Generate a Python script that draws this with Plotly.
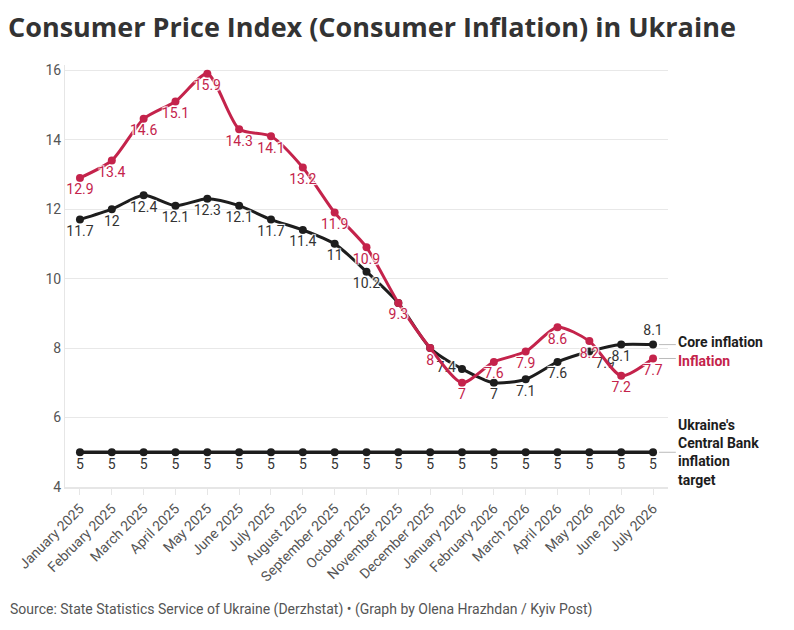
import plotly.graph_objects as go

months = ["January 2025", "February 2025", "March 2025", "April 2025", "May 2025",
          "June 2025", "July 2025", "August 2025", "September 2025", "October 2025",
          "November 2025", "December 2025", "January 2026", "February 2026",
          "March 2026", "April 2026", "May 2026", "June 2026", "July 2026"]
inflation = [12.9, 13.4, 14.6, 15.1, 15.9, 14.3, 14.1, 13.2, 11.9, 10.9, 9.3, 8.0,
             7.0, 7.6, 7.9, 8.6, 8.2, 7.2, 7.7]
core = [11.7, 12.0, 12.4, 12.1, 12.3, 12.1, 11.7, 11.4, 11.0, 10.2, 9.3, 8.0,
        7.4, 7.0, 7.1, 7.6, 7.9, 8.1, 8.1]
target = [5] * 19
# core labels hidden where they sit under the red ones
core_hidden = ["November 2025", "December 2025"]
# core labels moved off the red ones where the lines cross
core_label_pos = {"January 2026": "middle left", "May 2026": "bottom right",
                  "July 2026": "top center"}

RED = "#c4234b"
BLACK = "#1d1d1d"
FONT = "Roboto"
HALO = "1px 1px 1px #fff, -1px -1px 1px #fff, 1px -1px 1px #fff, -1px 1px 1px #fff"


def fmt(v):
    return f"{v:g}"


x_idx = list(range(len(months)))
core_text = ["" if m in core_hidden else fmt(v) for m, v in zip(months, core)]
core_pos = [core_label_pos.get(m, "bottom center") for m in months]

fig = go.Figure()
fig.add_trace(go.Scatter(
    x=x_idx, y=target, mode="lines+markers+text",
    line=dict(color=BLACK, width=3.5), marker=dict(size=8, color=BLACK),
    text=[fmt(v) for v in target], textposition="bottom center",
    textfont=dict(color="#333", size=14, family=FONT, shadow=HALO), cliponaxis=False))
fig.add_trace(go.Scatter(
    x=x_idx, y=core, mode="lines+markers+text",
    line=dict(color=BLACK, width=3, shape="spline", smoothing=0.7),
    marker=dict(size=8, color=BLACK),
    text=core_text, textposition=core_pos,
    textfont=dict(color="#333", size=14, family=FONT, shadow=HALO), cliponaxis=False))
fig.add_trace(go.Scatter(
    x=x_idx, y=inflation, mode="lines+markers+text",
    line=dict(color=RED, width=3, shape="spline", smoothing=0.7),
    marker=dict(size=8, color=RED),
    text=[fmt(v) for v in inflation], textposition="bottom center",
    textfont=dict(color=RED, size=14, family=FONT, shadow=HALO), cliponaxis=False))

# end labels (small nudge apart so the two top ones don't touch)
end_labels = [
    ("Core inflation", core[-1], BLACK, 3),
    ("Inflation", inflation[-1], RED, -3),
    ("Ukraine's<br>Central Bank<br>inflation<br>target", target[-1], BLACK, 0),
]
for txt, yv, col, dy in end_labels:
    fig.add_annotation(x=1.013, xref="paper", y=yv, yref="y", text=f"<b>{txt}</b>",
                       showarrow=False, xanchor="left", align="left", yshift=dy,
                       font=dict(color=col, size=14, family=FONT))
    fig.add_shape(type="line", xref="paper", yref="y", x0=0.985, x1=1.013,
                  y0=yv, y1=yv, line=dict(color="#bbbbbb", width=1))

# page has an 8px body margin, so the figure is a bit smaller than the window
fig.update_layout(
    width=786, height=622,
    margin=dict(l=57, r=126, t=57, b=143),
    paper_bgcolor="white", plot_bgcolor="white",
    showlegend=False,
    font=dict(family=FONT, color="#555"),
    title=dict(text="<b>Consumer Price Index (Consumer Inflation) in Ukraine</b>",
               x=0.0, xanchor="left", y=0.968, yanchor="middle",
               font=dict(size=27, color="#333", family="Open Sans")),
)
fig.update_xaxes(
    tickmode="array", tickvals=x_idx, ticktext=months, tickangle=-45,
    range=[-0.47, len(months) - 0.53], showgrid=False, automargin=False,
    ticks="outside", ticklen=6, tickcolor="#e6e6e6",
    showline=True, linecolor="#e6e6e6", linewidth=2,
    tickfont=dict(size=14, color="#555", family=FONT), zeroline=False)
fig.update_yaxes(
    range=[4, 16.15], tickvals=[4, 6, 8, 10, 12, 14, 16], automargin=False,
    showgrid=True, gridcolor="#e8e8e8", gridwidth=1,
    showline=True, linecolor="#e6e6e6", zeroline=False,
    ticks="", tickfont=dict(size=14, color="#555", family=FONT))

fig.add_annotation(
    x=-0.094, xref="paper", xanchor="left", y=-0.291, yref="paper", yanchor="middle",
    text="Source: State Statistics Service of Ukraine (Derzhstat) • (Graph by Olena Hrazhdan / Kyiv Post)",
    showarrow=False, font=dict(size=14, color="#555", family=FONT))

fig.write_html("out.html")
